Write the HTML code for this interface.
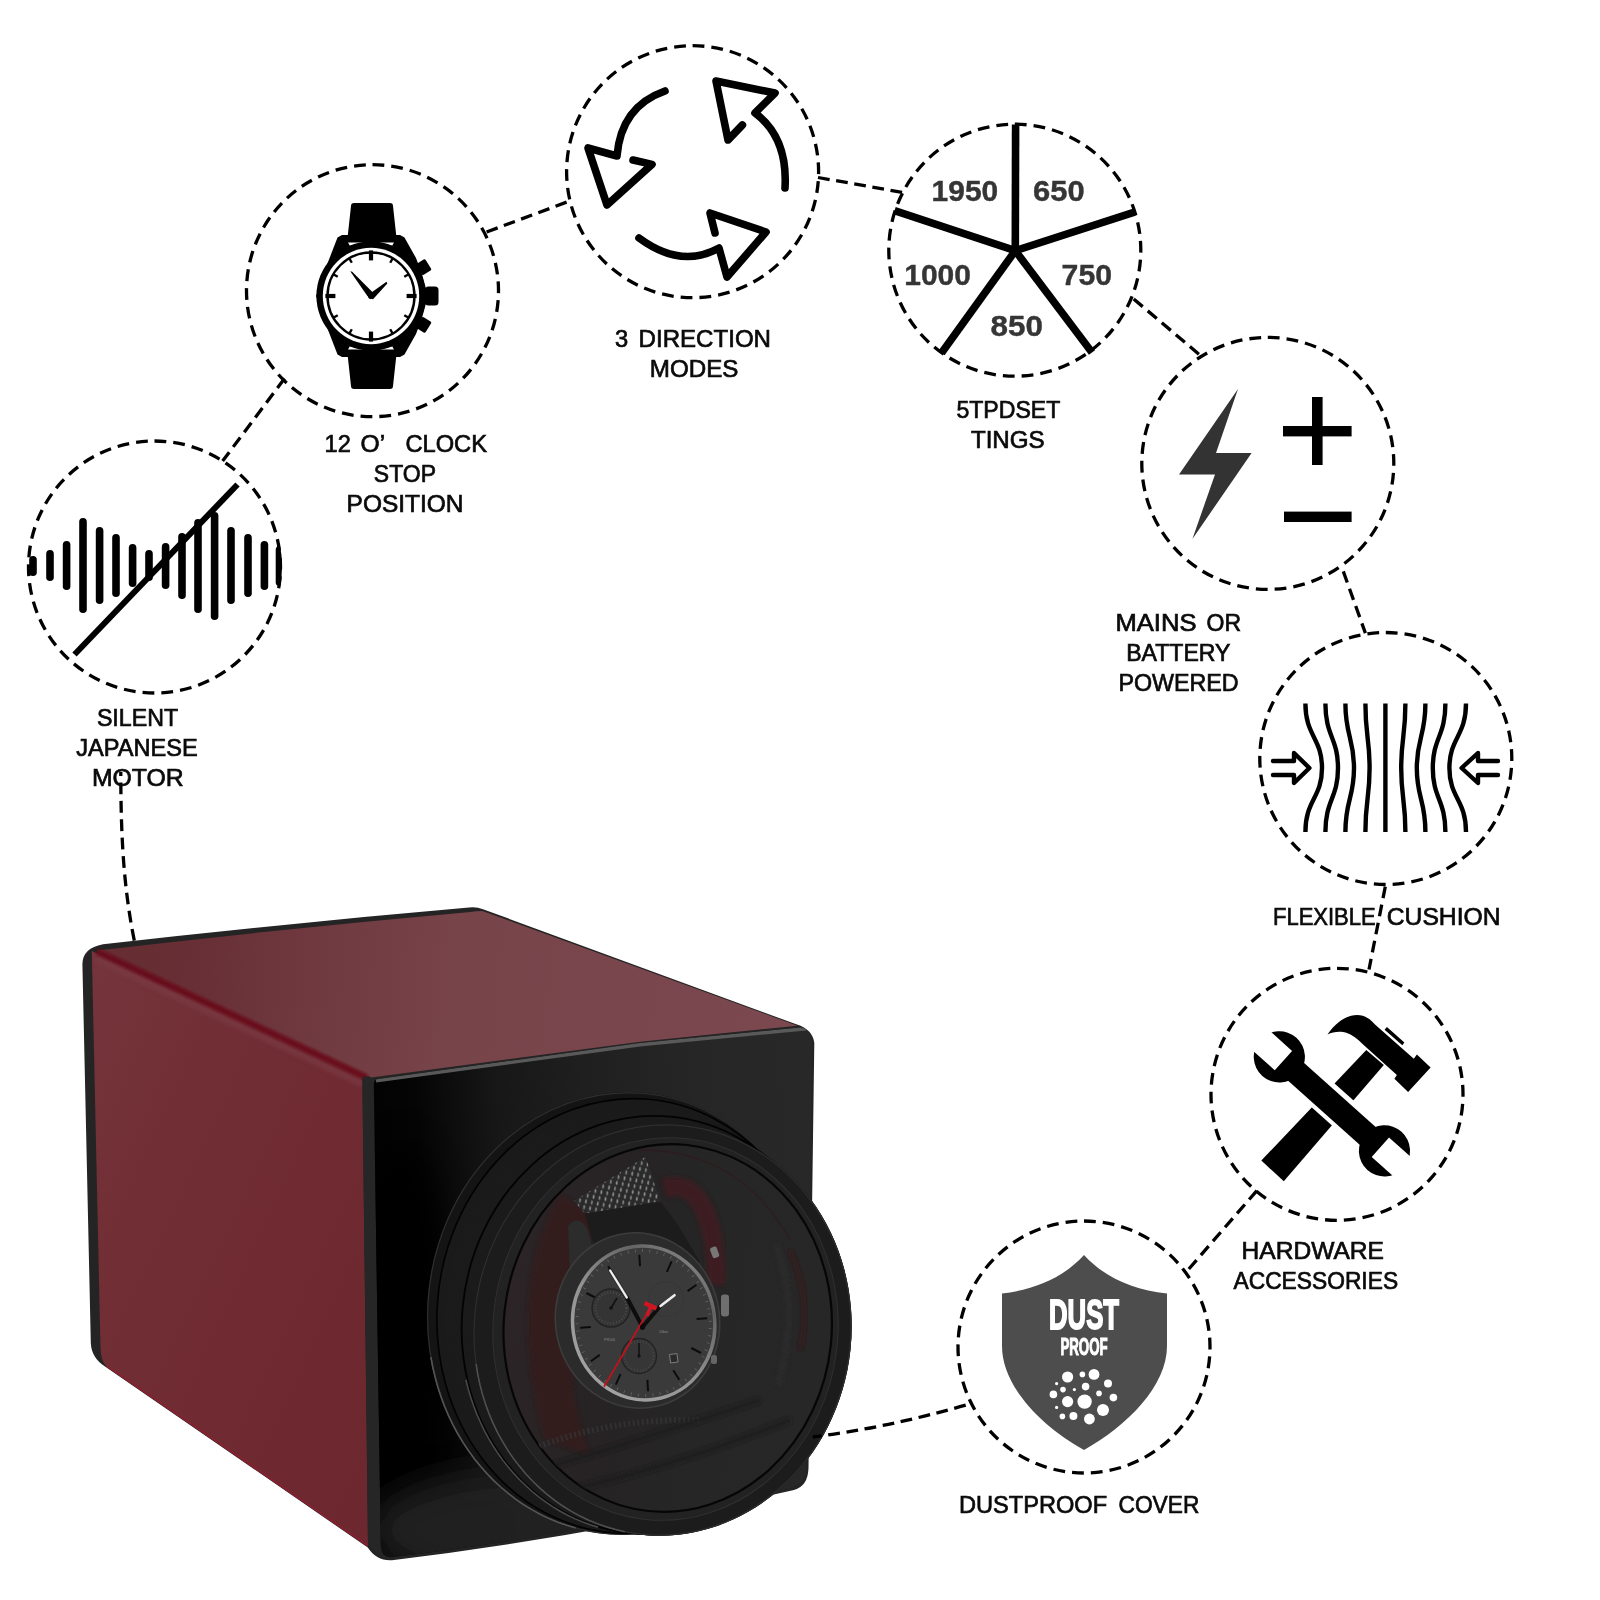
<!DOCTYPE html>
<html lang="en">
<head>
<meta charset="utf-8">
<title>Watch winder features</title>
<style>
html,body{margin:0;padding:0;background:#fff;}
body{width:1600px;height:1600px;overflow:hidden;}
svg{display:block;}
.lbl{opacity:0.999;}
.lbl text{font-family:"Liberation Sans", "Noto Sans CJK SC", sans-serif;font-size:24.6px;fill:#0a0a0a;stroke:#0a0a0a;stroke-width:0.7px;}
.num text{font-family:"Liberation Sans", "Noto Sans CJK SC", sans-serif;font-weight:700;font-size:29.2px;fill:#363636;stroke:#363636;stroke-width:0.4px;}
</style>
</head>
<body>
<svg width="1600" height="1600" viewBox="0 0 1600 1600">
<rect width="1600" height="1600" fill="#fff"/>

<defs>
<filter id="soft" x="-5%" y="-20%" width="110%" height="140%"><feGaussianBlur stdDeviation="0.55"/></filter>
<filter id="blur1" x="-10%" y="-10%" width="120%" height="120%"><feGaussianBlur stdDeviation="1.1"/></filter>
<filter id="blur2" x="-20%" y="-20%" width="140%" height="140%"><feGaussianBlur stdDeviation="2"/></filter>
<filter id="blur4" x="-30%" y="-30%" width="160%" height="160%"><feGaussianBlur stdDeviation="4"/></filter>
<filter id="blur8" x="-60%" y="-60%" width="220%" height="220%"><feGaussianBlur stdDeviation="16"/></filter>
<linearGradient id="gLeft" x1="0" y1="0" x2="1" y2="1">
  <stop offset="0" stop-color="#75343b"/><stop offset="0.4" stop-color="#702d33"/><stop offset="1" stop-color="#6d272e"/>
</linearGradient>
<linearGradient id="gTop" gradientUnits="userSpaceOnUse" x1="150" y1="960" x2="760" y2="1010">
  <stop offset="0" stop-color="#662d33"/><stop offset="0.08" stop-color="#683036"/><stop offset="0.49" stop-color="#77444a"/><stop offset="0.9" stop-color="#7a474e"/><stop offset="1" stop-color="#7b484f"/>
</linearGradient>
<linearGradient id="gFront" gradientUnits="userSpaceOnUse" x1="372" y1="1300" x2="640" y2="1100">
  <stop offset="0" stop-color="#000"/><stop offset="0.45" stop-color="#060606"/><stop offset="1" stop-color="#1b1b1b"/>
</linearGradient>
<linearGradient id="gGlass" gradientUnits="userSpaceOnUse" x1="505" y1="1330" x2="830" y2="1330">
  <stop offset="0" stop-color="#2c2426"/><stop offset="0.35" stop-color="#262324"/><stop offset="0.6" stop-color="#262626"/><stop offset="1" stop-color="#272727"/>
</linearGradient>
<linearGradient id="gFace" gradientUnits="userSpaceOnUse" x1="372" y1="1200" x2="812" y2="1160">
  <stop offset="0" stop-color="#020202"/><stop offset="0.12" stop-color="#050505"/><stop offset="0.3" stop-color="#171717"/><stop offset="0.5" stop-color="#1f1f1f"/><stop offset="0.75" stop-color="#262626"/><stop offset="1" stop-color="#282828"/>
</linearGradient>
<linearGradient id="gSilver" x1="0" y1="1" x2="1" y2="0">
  <stop offset="0" stop-color="#a9a9a9"/><stop offset="0.45" stop-color="#929292"/><stop offset="0.75" stop-color="#646464"/><stop offset="1" stop-color="#9c9c9c"/>
</linearGradient>
<pattern id="mesh" width="9" height="8" patternUnits="userSpaceOnUse" patternTransform="rotate(-31 600 1200)">
  <rect width="9" height="8" fill="#2a2a2a"/>
  <ellipse cx="2.2" cy="2" rx="0.85" ry="2.1" fill="#999" transform="rotate(38 2.2 2)"/>
  <ellipse cx="6.7" cy="6" rx="0.85" ry="2.1" fill="#8c8c8c" transform="rotate(38 6.7 6)"/>
</pattern>
<clipPath id="clipGlass"><ellipse cx="667.7" cy="1328" rx="164" ry="184" transform="rotate(6 667.7 1328)"/></clipPath>
</defs>
<path d="M82.4,964 Q82.6,948 103,944.2 Q284.5,923.6 469,907.6 Q476,906.6 483,909.2 L797,1024.6 Q812.5,1029.5 814.3,1043 L808.5,1468 Q808,1486 794,1490 Q592,1535.5 394,1560 Q377,1562 367.8,1547.5 L105,1366.5 Q91.5,1358 90.8,1343 Z" fill="#242424"/>
<path d="M91.8,951 L362.3,1075.5 L368,1546.8 L106.5,1366.8 Q100.8,1361 100.5,1348 Z" fill="url(#gLeft)"/>
<path d="M107.5,1366.5 L368,1545.8" stroke="#8d1f30" stroke-width="1.8" fill="none" opacity="0.85"/>
<path d="M97,950.6 Q284.5,928.6 470.5,912 Q476,911.2 482.3,911 L797.4,1025.7 L640,1041.8 L367.5,1078 Z" fill="url(#gTop)"/>
<path d="M96,959 L363,1084" stroke="#7b3b44" stroke-width="6" fill="none" opacity="0.75" filter="url(#blur2)"/>
<path d="M97,951.5 L367,1077.6" stroke="#6a0e1c" stroke-width="6.4" fill="none" opacity="0.95" filter="url(#blur1)"/>
<path d="M362.3,1079 Q364,1075.5 370,1076.5 L374,1080 L381.5,1553 Q372,1552 368,1543 Z" fill="#262626"/>
<clipPath id="clipFront"><path d="M373.8,1084 Q374,1079.5 378,1079 L640,1043 L800,1027.5 Q810.5,1028.5 811.8,1041 L806,1468 Q805.6,1483 793,1487 Q592,1532.5 394,1557 Q381,1558.6 380.8,1545 Z"/></clipPath>
<path d="M373.8,1084 Q374,1079.5 378,1079 L640,1043 L800,1027.5 Q810.5,1028.5 811.8,1041 L806,1468 Q805.6,1483 793,1487 Q592,1532.5 394,1557 Q381,1558.6 380.8,1545 Z" fill="url(#gFace)"/>
<g clip-path="url(#clipFront)">
<ellipse cx="400" cy="1330" rx="50" ry="190" fill="#000" filter="url(#blur8)" opacity="0.9"/>
<ellipse cx="540" cy="1530" rx="170" ry="62" fill="#242424" filter="url(#blur8)" opacity="0.95"/>
<path d="M376,1080.6 L640,1044.6 L806,1028.6" stroke="#595959" stroke-width="3.6" fill="none"/>
</g>
<ellipse cx="625.0" cy="1313.5" rx="198.0" ry="221.5" transform="rotate(4 625.0 1313.5)" fill="#141414"/>
<ellipse cx="625.0" cy="1313.5" rx="197.3" ry="220.8" transform="rotate(4 625.0 1313.5)" fill="none" stroke="#2e2e2e" stroke-width="1.2"/>
<path d="M575.7,1528.0 L566.7,1525.3 L557.8,1522.2 L549.1,1518.6 L540.6,1514.5 L532.3,1509.9 L524.1,1505.0 L516.2,1499.6 L508.6,1493.7 L501.2,1487.5 L494.0,1480.9 L487.2,1473.9 L480.7,1466.6 L474.5,1458.9 L468.6,1450.9 L463.1,1442.6 L457.9,1434.0 L453.1,1425.1 L448.7,1416.0 L444.7,1406.7 L441.1,1397.1 L437.9,1387.3 L435.2,1377.4 L432.8,1367.4 L430.9,1357.2" fill="none" stroke="#555" stroke-width="1.6" filter="url(#soft)"/>
<ellipse cx="630.0" cy="1316.0" rx="193.0" ry="217.5" transform="rotate(4 630.0 1316.0)" fill="#1a1a1a" stroke="#020202" stroke-width="1.6"/>
<ellipse cx="634.0" cy="1318.0" rx="189.5" ry="214.0" transform="rotate(4.0 634.0 1318.0)" fill="#1b1b1b"/>
<ellipse cx="635.8" cy="1318.8" rx="189.5" ry="213.5" transform="rotate(4.125 635.8 1318.8)" fill="#1b1b1b"/>
<ellipse cx="637.6" cy="1319.5" rx="189.4" ry="213.0" transform="rotate(4.25 637.6 1319.5)" fill="#1b1b1b"/>
<ellipse cx="639.3" cy="1320.2" rx="189.4" ry="212.5" transform="rotate(4.375 639.3 1320.2)" fill="#1b1b1b"/>
<ellipse cx="641.1" cy="1321.0" rx="189.4" ry="212.0" transform="rotate(4.5 641.1 1321.0)" fill="#1b1b1b"/>
<ellipse cx="642.9" cy="1321.8" rx="189.3" ry="211.5" transform="rotate(4.625 642.9 1321.8)" fill="#1b1b1b"/>
<ellipse cx="644.7" cy="1322.5" rx="189.3" ry="211.0" transform="rotate(4.75 644.7 1322.5)" fill="#1b1b1b"/>
<ellipse cx="646.5" cy="1323.2" rx="189.3" ry="210.5" transform="rotate(4.875 646.5 1323.2)" fill="#1b1b1b"/>
<ellipse cx="648.2" cy="1324.0" rx="189.2" ry="210.0" transform="rotate(5.0 648.2 1324.0)" fill="#1b1b1b"/>
<ellipse cx="650.0" cy="1324.8" rx="189.2" ry="209.5" transform="rotate(5.125 650.0 1324.8)" fill="#1b1b1b"/>
<ellipse cx="651.8" cy="1325.5" rx="189.2" ry="209.0" transform="rotate(5.25 651.8 1325.5)" fill="#1b1b1b"/>
<ellipse cx="653.6" cy="1326.2" rx="189.2" ry="208.5" transform="rotate(5.375 653.6 1326.2)" fill="#1b1b1b"/>
<ellipse cx="655.4" cy="1327.0" rx="189.1" ry="208.0" transform="rotate(5.5 655.4 1327.0)" fill="#1b1b1b"/>
<ellipse cx="657.2" cy="1327.8" rx="189.1" ry="207.5" transform="rotate(5.625 657.2 1327.8)" fill="#1b1b1b"/>
<ellipse cx="658.9" cy="1328.5" rx="189.1" ry="207.0" transform="rotate(5.75 658.9 1328.5)" fill="#1b1b1b"/>
<ellipse cx="660.7" cy="1329.2" rx="189.0" ry="206.5" transform="rotate(5.875 660.7 1329.2)" fill="#1b1b1b"/>
<ellipse cx="662.5" cy="1330.0" rx="189.0" ry="206.0" transform="rotate(6.0 662.5 1330.0)" fill="#1b1b1b"/>
<ellipse cx="651.0" cy="1325.0" rx="189.2" ry="209.2" transform="rotate(5.2 651.0 1325.0)" fill="none" stroke="#030303" stroke-width="1.8"/>
<path d="M598.1,1527.3 L590.2,1524.8 L582.4,1521.9 L574.7,1518.6 L567.2,1515.0 L559.8,1511.0 L552.6,1506.6 L545.6,1501.9 L538.8,1496.9 L532.2,1491.5 L525.9,1485.8 L519.7,1479.8 L513.8,1473.5 L508.2,1467.0 L502.8,1460.1 L497.7,1453.0 L492.9,1445.7 L488.4,1438.1 L484.2,1430.3 L480.4,1422.3 L476.8,1414.1 L473.6,1405.8 L470.7,1397.3 L468.1,1388.6 L465.9,1379.8" fill="none" stroke="#4a4a4a" stroke-width="1.5" filter="url(#soft)"/>
<ellipse cx="662.5" cy="1330.0" rx="189.0" ry="206.0" transform="rotate(6 662.5 1330.0)" fill="#1c1c1c"/>
<ellipse cx="662.5" cy="1330.0" rx="188.3" ry="205.3" transform="rotate(6 662.5 1330.0)" fill="none" stroke="#2e2e2e" stroke-width="1.2"/>
<path d="M624.8,1531.7 L615.5,1529.5 L606.2,1526.8 L597.1,1523.6 L588.2,1520.0 L579.5,1515.8 L571.0,1511.1 L562.7,1506.0 L554.7,1500.4 L547.0,1494.3 L539.6,1487.9 L532.5,1481.0 L525.7,1473.8 L519.3,1466.1 L513.2,1458.1 L507.6,1449.8 L502.3,1441.2 L497.4,1432.3 L493.0,1423.1 L489.0,1413.7 L485.5,1404.0 L482.4,1394.2 L479.8,1384.2 L477.7,1374.1 L476.1,1363.8" fill="none" stroke="#505050" stroke-width="1.5" filter="url(#soft)"/>
<ellipse cx="665.5" cy="1329.0" rx="172.5" ry="191.5" transform="rotate(6 665.5 1329.0)" fill="#222" stroke="#303030" stroke-width="1"/>
<ellipse cx="667.7" cy="1328.0" rx="164.0" ry="184.0" transform="rotate(6 667.7 1328.0)" fill="url(#gGlass)" stroke="#060606" stroke-width="2.2"/>
<g clip-path="url(#clipGlass)">
<path d="M560,1195 Q505,1290 545,1440 L590,1455 Q545,1330 600,1215 Z" fill="#341a1d" filter="url(#blur2)" opacity="0.85"/>
<path d="M664,1188 Q700,1178 712,1235 Q717,1260 716,1285" fill="none" stroke="#3f1c20" stroke-width="19" filter="url(#blur2)" opacity="0.9"/>
<path d="M640,1150 Q740,1150 790,1240" fill="none" stroke="#3a1216" stroke-width="1.6" opacity="0.4"/>
<path d="M776,1245 Q800,1310 778,1385" fill="none" stroke="#2c2c2c" stroke-width="6" filter="url(#blur2)"/>
<path d="M790,1250 Q812,1300 800,1350" fill="none" stroke="#3a1216" stroke-width="3" filter="url(#blur2)"/>
<path d="M535,1448 Q610,1418 700,1420" fill="none" stroke="#343434" stroke-width="6" stroke-dasharray="2 2.6" opacity="0.8"/>
<path d="M540,1470 Q640,1440 760,1400" fill="none" stroke="#1c1c1c" stroke-width="5" filter="url(#blur2)"/>
<path d="M560,1492 Q670,1468 790,1420" fill="none" stroke="#1c1c1c" stroke-width="5" filter="url(#blur2)"/>
<path d="M574.1,1200.7 L645.6,1156.8 L660.2,1201.5 L584.7,1213.7 Z" fill="url(#mesh)"/>
<path d="M584.7,1213.7 L660.2,1201.5 L676,1222 L700,1262 L600,1300 L594,1245 Z" fill="#1c1c1c"/>
<path d="M568,1226 Q578,1214 587,1228 L604,1290 L572,1320 Z" fill="#2c2c2c"/>
<ellipse cx="637.5" cy="1320.5" rx="82" ry="88" fill="#2b2b2b" stroke="#3c3c3c" stroke-width="1.6" transform="rotate(-12 637.5 1320.5)"/>
<rect x="721" y="1294.5" width="8" height="22" rx="3" fill="#6f6f6f"/>
<rect x="711" y="1247" width="7" height="11" rx="2" fill="#777" transform="rotate(-20 714 1252)"/>
<rect x="711" y="1355" width="6" height="9" rx="2.5" fill="#666"/>
<ellipse cx="643.7" cy="1323" rx="71" ry="77" fill="#3a3a3a" stroke="url(#gSilver)" stroke-width="3.5" transform="rotate(-8 643.7 1323)"/>
<ellipse cx="643.7" cy="1323" rx="66.5" ry="72.5" fill="none" stroke="#6a6a6a" stroke-width="3" stroke-dasharray="0.7 6.6" transform="rotate(-8 643.7 1323)"/>
<g stroke="#0c0c0c" stroke-width="2"><line x1="640.0" y1="1266.1" x2="639.3" y2="1254.7"/><line x1="666.9" y1="1271.8" x2="671.6" y2="1261.4"/><line x1="687.6" y1="1291.1" x2="696.5" y2="1284.7"/><line x1="696.6" y1="1319.0" x2="707.2" y2="1318.2"/><line x1="691.3" y1="1348.0" x2="701.0" y2="1353.0"/><line x1="673.3" y1="1370.3" x2="679.3" y2="1379.8"/><line x1="647.4" y1="1379.9" x2="648.1" y2="1391.3"/><line x1="620.5" y1="1374.2" x2="615.8" y2="1384.6"/><line x1="599.8" y1="1354.9" x2="590.9" y2="1361.3"/><line x1="590.8" y1="1327.0" x2="580.2" y2="1327.8"/><line x1="596.1" y1="1298.0" x2="586.4" y2="1293.0"/><line x1="614.1" y1="1275.7" x2="608.1" y2="1266.2"/></g>
<circle cx="611" cy="1308" r="19" fill="#343434" stroke="#222" stroke-width="1.3"/>
<circle cx="639" cy="1356" r="17.5" fill="#363636" stroke="#222" stroke-width="1.3"/>
<circle cx="666" cy="1299" r="17.5" fill="none" stroke="#303030" stroke-width="1" stroke-dasharray="1 2"/>
<circle cx="611" cy="1308" r="15.5" fill="none" stroke="#555" stroke-width="2.2" stroke-dasharray="0.7 2.3"/>
<circle cx="639" cy="1356" r="14.5" fill="none" stroke="#4c4c4c" stroke-width="2" stroke-dasharray="0.7 2.3"/>
<path d="M611,1308 L617,1298" stroke="#111" stroke-width="1.6"/><circle cx="611" cy="1308" r="1.8" fill="#111"/>
<path d="M639,1356 L639,1343" stroke="#111" stroke-width="1.5"/><circle cx="639" cy="1356" r="1.7" fill="#111"/>
<rect x="670" y="1354" width="7.5" height="8.5" fill="#2a2a2a" stroke="#8a8a8a" stroke-width="0.8" transform="rotate(-8 674 1358)"/>
<path d="M642.5,1327 L626.8,1297.5" stroke="#0d0d0d" stroke-width="4" stroke-linecap="round"/>
<path d="M626.8,1297.5 L610.2,1270.6" stroke="#e6e6e6" stroke-width="2.4" stroke-linecap="round"/>
<path d="M626.8,1297.5 L610.2,1270.6" stroke="#111" stroke-width="4.2" stroke-linecap="round" opacity="0.35"/>
<path d="M626.8,1297.5 L610.2,1270.6" stroke="#efefef" stroke-width="1.9" stroke-linecap="round"/>
<path d="M642.5,1327 L660,1306.3" stroke="#0d0d0d" stroke-width="4" stroke-linecap="round"/>
<path d="M660.5,1306 L674.5,1295.2" stroke="#ededed" stroke-width="2.6" stroke-linecap="round"/>
<path d="M604,1386.8 L650.5,1307.5" stroke="#c3121c" stroke-width="1.7"/>
<path d="M644.5,1303 L656.5,1308.5" stroke="#d01520" stroke-width="4.2"/>
<path d="M647,1316 L651,1306" stroke="#d01520" stroke-width="3.4"/>
<circle cx="642.5" cy="1327.2" r="2.6" fill="#0b0b0b"/>
<g font-family='"Liberation Sans", "Noto Sans CJK SC", sans-serif' font-size="3.6" fill="#8a8a8a"><text x="604" y="1341">PR100</text><text x="659" y="1333">10bar</text></g>
</g>
<g fill="none" stroke="#000" stroke-width="3.3" stroke-dasharray="11.8 6.6">
<path d="M120.8,772 C120.8,840 124,890 134.5,941.5" stroke-dashoffset="8"/>
<path d="M284.5,378.6 L222.6,461"/>
<path d="M486.6,232 L570.5,200.7"/>
<path d="M818,177.5 L903,192.5"/>
<path d="M1133.7,299 L1201.7,356.5"/>
<path d="M1343.3,571.4 L1365.4,633.1"/>
<path d="M1385.3,886.6 L1369,969.5"/>
<path d="M1256.9,1190.6 L1186.7,1271.4"/>
<path d="M965.7,1405.2 Q885,1428 812.8,1437"/>
</g>
<g fill="none" stroke="#000" stroke-width="3.3" stroke-dasharray="11.8 7.05">
<circle cx="154.5" cy="567.0" r="126.0" transform="rotate(-90 154.5 567.0)"/>
<circle cx="372.5" cy="290.7" r="126.0" transform="rotate(-90 372.5 290.7)"/>
<circle cx="692.6" cy="171.7" r="126.0" transform="rotate(-90 692.6 171.7)"/>
<circle cx="1014.8" cy="250.2" r="126.0" transform="rotate(-90 1014.8 250.2)"/>
<circle cx="1267.8" cy="463.4" r="126.0" transform="rotate(-90 1267.8 463.4)"/>
<circle cx="1385.8" cy="758.5" r="126.0" transform="rotate(-90 1385.8 758.5)"/>
<circle cx="1337.0" cy="1094.3" r="126.0" transform="rotate(-90 1337.0 1094.3)"/>
<circle cx="1084.0" cy="1347.0" r="126.0" transform="rotate(-90 1084.0 1347.0)"/>
</g>
<clipPath id="clipSilent"><circle cx="154.5" cy="567.0" r="127.5"/></clipPath>
<g clip-path="url(#clipSilent)" stroke="#000" stroke-width="7.6" stroke-linecap="round">
<line x1="33.0" y1="559.8" x2="33.0" y2="572.2"/>
<line x1="50.0" y1="553.8" x2="50.0" y2="577.2"/>
<line x1="66.6" y1="544.8" x2="66.6" y2="586.2"/>
<line x1="83.0" y1="521.8" x2="83.0" y2="609.2"/>
<line x1="99.6" y1="530.8" x2="99.6" y2="600.2"/>
<line x1="116.0" y1="537.8" x2="116.0" y2="593.2"/>
<line x1="132.6" y1="547.8" x2="132.6" y2="583.2"/>
<line x1="149.0" y1="553.8" x2="149.0" y2="577.2"/>
<line x1="165.6" y1="546.8" x2="165.6" y2="585.2"/>
<line x1="182.0" y1="536.8" x2="182.0" y2="595.2"/>
<line x1="198.0" y1="522.8" x2="198.0" y2="609.2"/>
<line x1="214.6" y1="515.8" x2="214.6" y2="616.2"/>
<line x1="231.0" y1="530.8" x2="231.0" y2="600.2"/>
<line x1="248.0" y1="537.8" x2="248.0" y2="593.2"/>
<line x1="264.4" y1="544.8" x2="264.4" y2="586.2"/>
<line x1="279.5" y1="549.8" x2="279.5" y2="582.2"/>
</g>
<line x1="74.5" y1="654.5" x2="237.5" y2="484.5" stroke="#000" stroke-width="6" />
<g id="watchicon" fill="#000">
<path d="M351,206 Q351,203 354,203 L390,203 Q393,203 393,206 L396.5,238 L347.5,238 Z"/>
<path d="M347.5,354 L396.5,354 L393,386 Q393,389 390,389 L354,389 Q351,389 351,386 Z"/>
<path d="M342,235 L400,235 L404.5,237.5 L416,258 L422,274 L428,296 L422,318 L416,334 L404.5,354.5 L400,357 L342,357 L337.5,354.5 L326.5,326 L316,296 L326.5,266 L337.5,237.5 Z"/>
<path d="M348,242.5 L394,242.5 L392,246 Q371,238 350,246 Z" fill="#fff"/>
<path d="M348,349.5 L394,349.5 L392,346 Q371,354 350,346 Z" fill="#fff"/>
<circle cx="371.0" cy="296.0" r="54.6"/>
<circle cx="371.0" cy="296.0" r="48.2" fill="#fff"/>
<circle cx="371.0" cy="296.0" r="43.5" fill="none" stroke="#000" stroke-width="2.4"/>
<rect x="425" y="286.5" width="13.5" height="19" rx="3.5"/>
<rect x="418" y="261" width="11" height="13" rx="1.5" transform="rotate(-32 423 267)" />
<rect x="418" y="318" width="11" height="13" rx="1.5" transform="rotate(32 423 325)" />
<rect x="368.9" y="250.4" width="4.2" height="10" transform="rotate(0 371.0 296.0)"/>
<rect x="369.8" y="253.0" width="2.4" height="4.6" transform="rotate(30 371.0 296.0)"/>
<rect x="369.8" y="253.0" width="2.4" height="4.6" transform="rotate(60 371.0 296.0)"/>
<rect x="368.9" y="250.4" width="4.2" height="10" transform="rotate(90 371.0 296.0)"/>
<rect x="369.8" y="253.0" width="2.4" height="4.6" transform="rotate(120 371.0 296.0)"/>
<rect x="369.8" y="253.0" width="2.4" height="4.6" transform="rotate(150 371.0 296.0)"/>
<rect x="368.9" y="250.4" width="4.2" height="10" transform="rotate(180 371.0 296.0)"/>
<rect x="369.8" y="253.0" width="2.4" height="4.6" transform="rotate(210 371.0 296.0)"/>
<rect x="369.8" y="253.0" width="2.4" height="4.6" transform="rotate(240 371.0 296.0)"/>
<rect x="368.9" y="250.4" width="4.2" height="10" transform="rotate(270 371.0 296.0)"/>
<rect x="369.8" y="253.0" width="2.4" height="4.6" transform="rotate(300 371.0 296.0)"/>
<rect x="369.8" y="253.0" width="2.4" height="4.6" transform="rotate(330 371.0 296.0)"/>
<path d="M370.5,299.2 L367.2,295.7 L350.2,271.2 L352.2,271.7 L373.6,293.2 Z"/>
<path d="M368.6,294.6 L386.5,281.8 L387.3,283.4 L372.8,299.4 Z"/>
<circle cx="371.0" cy="296.0" r="3"/>
</g>
<g fill="none" stroke="#000" stroke-width="7.6" stroke-linecap="round" stroke-linejoin="round">
<path d="M785,188 Q788,137.5 755,113 L775,93 L716,81 L728,140 L742.4,125"/>
<path d="M665,91 Q621,106.5 617,156 L588,148 L607,205 L652,164.4 L633,160"/>
<path d="M639,238 Q681,269 719,248 L727,277 L766,232 L710,213 L715,233"/>
</g>
<g stroke="#000" stroke-width="7.6" stroke-linecap="butt">
<line x1="1015.3" y1="250.7" x2="1015.6" y2="124.5"/>
<line x1="1015.3" y1="250.7" x2="1134.5" y2="212.2"/>
<line x1="1015.3" y1="250.7" x2="1092" y2="352.5"/>
<line x1="1015.3" y1="250.7" x2="941.5" y2="353"/>
<line x1="1015.3" y1="250.7" x2="894.5" y2="210.7"/>
</g>
<g class="num" filter="url(#soft)">
<text x="931.6" y="201" textLength="66.6" lengthAdjust="spacingAndGlyphs">1950</text>
<text x="1033" y="201" textLength="51.6" lengthAdjust="spacingAndGlyphs">650</text>
<text x="904.2" y="285" textLength="66.8" lengthAdjust="spacingAndGlyphs">1000</text>
<text x="1061.6" y="285" textLength="50.4" lengthAdjust="spacingAndGlyphs">750</text>
<text x="990.6" y="336" textLength="52.4" lengthAdjust="spacingAndGlyphs">850</text>
</g>
<path d="M1238,389 L1216,453 L1251.6,453 L1192.4,539 L1215,474.4 L1179,474.4 Z" fill="#333"/>
<rect x="1312" y="397" width="10.6" height="68" fill="#000"/>
<rect x="1283" y="426" width="68.6" height="10.4" fill="#000"/>
<rect x="1284" y="511.6" width="67.6" height="10.4" fill="#000"/>
<g fill="none" stroke="#000" stroke-width="4.4">
<path d="M1305.4,703.6 C1305.4,736 1322.0,738 1322.0,768 S1305.4,800 1305.4,832"/>
<path d="M1325.4,703.6 C1325.4,736 1338.0,738 1338.0,768 S1325.4,800 1325.4,832"/>
<path d="M1345.4,703.6 C1345.4,736 1354.0,738 1354.0,768 S1345.4,800 1345.4,832"/>
<path d="M1365.4,703.6 C1365.4,736 1369.6000000000001,738 1369.6000000000001,768 S1365.4,800 1365.4,832"/>
<path d="M1385.4,703.6 C1385.4,736 1385.4,738 1385.4,768 S1385.4,800 1385.4,832"/>
<path d="M1405.4,703.6 C1405.4,736 1401.2,738 1401.2,768 S1405.4,800 1405.4,832"/>
<path d="M1425.4,703.6 C1425.4,736 1416.8000000000002,738 1416.8000000000002,768 S1425.4,800 1425.4,832"/>
<path d="M1445.4,703.6 C1445.4,736 1432.8000000000002,738 1432.8000000000002,768 S1445.4,800 1445.4,832"/>
<path d="M1466.0,703.6 C1466.0,736 1449.4,738 1449.4,768 S1466.0,800 1466.0,832"/>
</g>
<g fill="none" stroke="#000" stroke-width="4.4" stroke-linecap="round" stroke-linejoin="round">
<path d="M1273,761 H1294 V753 L1309.4,768 L1294,783 V775 H1273"/>
<path d="M1498,761 H1478 V753 L1461.6,768 L1478,783 V775 H1498"/>
</g>
<path d="M1261.3,1160.6 L1283.8,1181.3 L1383.8,1065 L1366.3,1050 Z" fill="#000"/>
<path d="M1327.5,1034.4 C1336,1022 1347,1015 1357,1015 C1365,1015 1370,1019 1375,1024.5 L1413.8,1058.8 L1416.9,1054.4 L1430.6,1067.5 L1408.1,1091.9 L1394.4,1078.8 L1396.9,1075 L1362,1043.5 C1356,1037.5 1350,1033 1343,1032 C1337,1031.2 1332,1032.5 1327.5,1034.4 Z" fill="#000"/>
<path d="M1386.9,1026.9 L1404.4,1042.5 L1402.3,1045.2 L1384.6,1029.8 Z" fill="#000"/>
<g transform="translate(1331.9 1103.9) rotate(41.8)">
<rect x="-74" y="-17" width="148" height="33" fill="#fff"/>
<rect x="-72" y="-12" width="144" height="24" fill="#000"/>
<circle cx="-70.5" cy="0" r="25.6" fill="#000"/>
<circle cx="70.5" cy="0" r="25.6" fill="#000"/>
<rect x="-100" y="-13" width="35" height="26" fill="#fff"/>
<rect x="65" y="-13" width="35" height="26" fill="#fff"/>
</g>
<path d="M1084,1255 C1064,1277 1036,1289.5 1002,1293.6 L1002,1346 C1002,1386 1041,1426 1084,1450 C1127,1426 1167,1386 1167,1346 L1167,1293.6 C1132,1289.5 1104,1277 1084,1255 Z" fill="#4d4d4d"/>
<g fill="#fff" stroke="#fff" stroke-linejoin="miter" opacity="0.999" font-family='"Liberation Sans", "Noto Sans CJK SC", sans-serif' font-weight="700">
<text x="1049" y="1329.2" font-size="42" stroke-width="1.9" textLength="70" lengthAdjust="spacingAndGlyphs">DUST</text>
<text x="1060.4" y="1354.5" font-size="23.4" stroke-width="1.1" textLength="47.2" lengthAdjust="spacingAndGlyphs">PROOF</text>
</g>
<g fill="#fff">
<circle cx="1067.6" cy="1377.0" r="5.6"/>
<circle cx="1082.4" cy="1374.4" r="2.8"/>
<circle cx="1094.0" cy="1374.4" r="5.4"/>
<circle cx="1108.0" cy="1383.6" r="4.0"/>
<circle cx="1056.6" cy="1383.6" r="1.6"/>
<circle cx="1063.0" cy="1389.6" r="2.8"/>
<circle cx="1074.4" cy="1389.6" r="1.6"/>
<circle cx="1085.6" cy="1386.6" r="3.8"/>
<circle cx="1099.0" cy="1393.4" r="2.8"/>
<circle cx="1053.4" cy="1394.4" r="3.8"/>
<circle cx="1113.4" cy="1397.6" r="3.8"/>
<circle cx="1067.6" cy="1401.6" r="5.6"/>
<circle cx="1084.6" cy="1401.6" r="7.2"/>
<circle cx="1056.6" cy="1407.4" r="1.6"/>
<circle cx="1103.0" cy="1410.0" r="6.0"/>
<circle cx="1062.4" cy="1416.4" r="2.8"/>
<circle cx="1073.4" cy="1416.0" r="4.0"/>
<circle cx="1089.4" cy="1419.0" r="5.4"/>
</g>
<g class="lbl">
<text y="726.3" xml:space="preserve"><tspan x="96.9" textLength="81.2" lengthAdjust="spacingAndGlyphs">SILENT</tspan></text>
<text y="756.2" xml:space="preserve"><tspan x="76.3" textLength="121.5" lengthAdjust="spacingAndGlyphs">JAPANESE</tspan></text>
<text y="786.3" xml:space="preserve"><tspan x="91.9" textLength="91.9" lengthAdjust="spacingAndGlyphs">MOTOR</tspan></text>
<text y="452.2" xml:space="preserve"><tspan x="324.6" textLength="26.2" lengthAdjust="spacingAndGlyphs">12</tspan><tspan font-size="1"> </tspan><tspan x="360.6" textLength="24.6" lengthAdjust="spacingAndGlyphs">O’</tspan><tspan font-size="1"> </tspan><tspan x="405.4" textLength="81.6" lengthAdjust="spacingAndGlyphs">CLOCK</tspan></text>
<text y="482.1" xml:space="preserve"><tspan x="373.8" textLength="62.2" lengthAdjust="spacingAndGlyphs">STOP</tspan></text>
<text y="512.3" xml:space="preserve"><tspan x="346.6" textLength="116.8" lengthAdjust="spacingAndGlyphs">POSITION</tspan></text>
<text y="347.0" xml:space="preserve"><tspan x="615.0" textLength="13.2" lengthAdjust="spacingAndGlyphs">3</tspan><tspan font-size="1"> </tspan><tspan x="638.6" textLength="132.4" lengthAdjust="spacingAndGlyphs">DIRECTION</tspan></text>
<text y="377.0" xml:space="preserve"><tspan x="649.8" textLength="88.6" lengthAdjust="spacingAndGlyphs">MODES</tspan></text>
<text y="417.5" xml:space="preserve"><tspan x="956.4" textLength="104.0" lengthAdjust="spacingAndGlyphs">5TPDSET</tspan></text>
<text y="447.7" xml:space="preserve"><tspan x="970.9" textLength="73.8" lengthAdjust="spacingAndGlyphs">TINGS</tspan></text>
<text y="631.1" xml:space="preserve"><tspan x="1115.5" textLength="81.0" lengthAdjust="spacingAndGlyphs">MAINS</tspan><tspan font-size="1"> </tspan><tspan x="1206.5" textLength="34.5" lengthAdjust="spacingAndGlyphs">OR</tspan></text>
<text y="660.8" xml:space="preserve"><tspan x="1126.2" textLength="104.3" lengthAdjust="spacingAndGlyphs">BATTERY</tspan></text>
<text y="691.0" xml:space="preserve"><tspan x="1118.4" textLength="120.2" lengthAdjust="spacingAndGlyphs">POWERED</tspan></text>
<text y="925.2" xml:space="preserve"><tspan x="1273.0" textLength="102.7" lengthAdjust="spacingAndGlyphs">FLEXIBLE</tspan><tspan font-size="1"> </tspan><tspan x="1386.8" textLength="113.7" lengthAdjust="spacingAndGlyphs">CUSHION</tspan></text>
<text y="1259.2" xml:space="preserve"><tspan x="1241.6" textLength="142.4" lengthAdjust="spacingAndGlyphs">HARDWARE</tspan></text>
<text y="1289.1" xml:space="preserve"><tspan x="1233.5" textLength="164.6" lengthAdjust="spacingAndGlyphs">ACCESSORIES</tspan></text>
<text y="1513.3" xml:space="preserve"><tspan x="958.9" textLength="148.2" lengthAdjust="spacingAndGlyphs">DUSTPROOF</tspan><tspan font-size="1"> </tspan><tspan x="1118.5" textLength="80.9" lengthAdjust="spacingAndGlyphs">COVER</tspan></text>
</g>
</svg>
</body>
</html>
